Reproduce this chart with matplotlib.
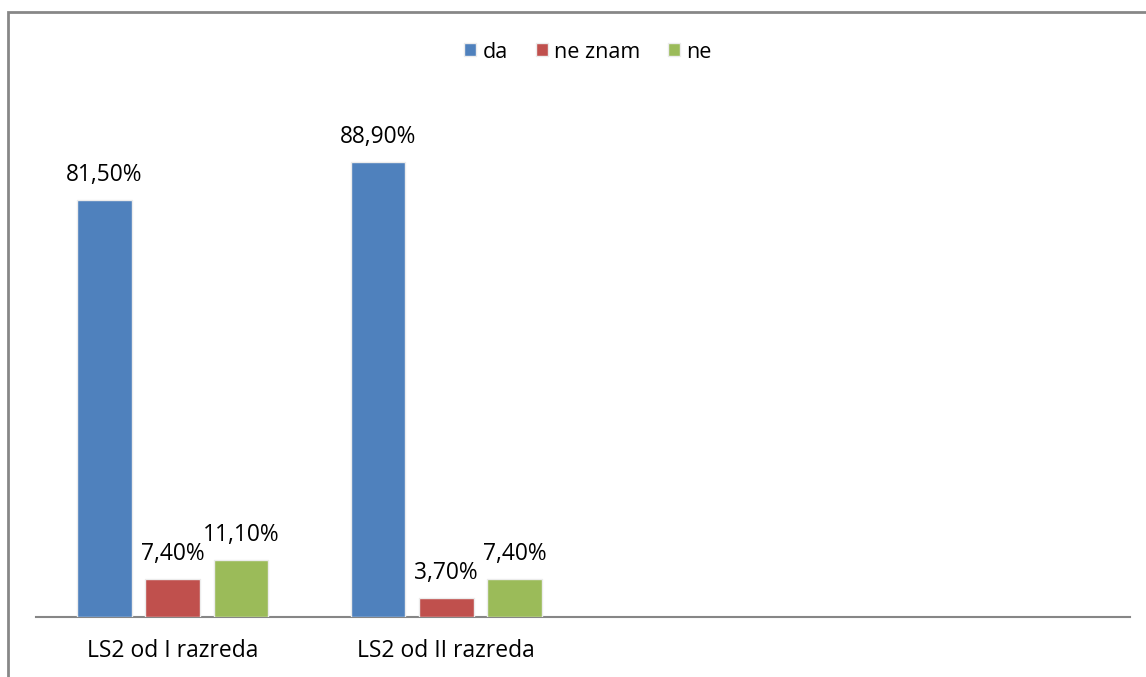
import matplotlib
matplotlib.use("Agg")
import matplotlib.pyplot as plt
from matplotlib.patches import Rectangle
import numpy as np

categories = ["LS2 od I razreda", "LS2 od II razreda", "", ""]
series_names = ["da", "ne znam", "ne"]
da = [81.5, 88.9]
ne_znam = [7.4, 3.7]
ne = [11.1, 7.4]
colors = ["#4F81BD", "#C0504D", "#9BBB59"]

plt.rcParams['font.family'] = ['Open Sans', 'DejaVu Sans']

W, H = 1146, 677
fig = plt.figure(figsize=(W / 100, H / 100), dpi=100)
ax = fig.add_axes([36 / W, (H - 617) / H, 1094 / W, 512 / H])

x = np.arange(len(da))
bw = 0.2
step = 0.25
for i, (vals, c, name) in enumerate(zip([da, ne_znam, ne], colors, series_names)):
    pos = x + (i - 1) * step
    bars = ax.bar(pos, vals, width=bw, color=c, edgecolor='#ececec', linewidth=1.0, label=name, zorder=3)
    for b, v in zip(bars, vals):
        ax.annotate(f"{v:.2f}%".replace('.', ','), (b.get_x() + b.get_width() / 2, v),
                    xytext=(0, 9.5), textcoords='offset points', ha='center', va='bottom',
                    fontsize=16.4, color='#000000')

ax.set_xlim(-0.5, len(categories) - 0.5)
ax.set_ylim(0, 100)
ax.set_xticks(range(len(categories)))
ax.set_xticklabels(categories, fontsize=16.5)
ax.tick_params(axis='x', length=0, pad=16)
ax.set_yticks([])
for s in ['top', 'right', 'left']:
    ax.spines[s].set_visible(False)
ax.spines['bottom'].set_color('#868686')
ax.spines['bottom'].set_linewidth(1.5)

leg = fig.legend(loc='center', bbox_to_anchor=(588 / W, 1 - 52 / H), ncol=3, frameon=False,
                 fontsize=15.5, handlelength=0.55, handleheight=0.55, handletextpad=0.3,
                 columnspacing=1.3)

fig.add_artist(Rectangle((8 / W, -0.05), 1.2, 1 - 12 / H + 0.05, transform=fig.transFigure,
                         fill=False, edgecolor='#878787', linewidth=2))

fig.savefig("out.png", dpi=100)
